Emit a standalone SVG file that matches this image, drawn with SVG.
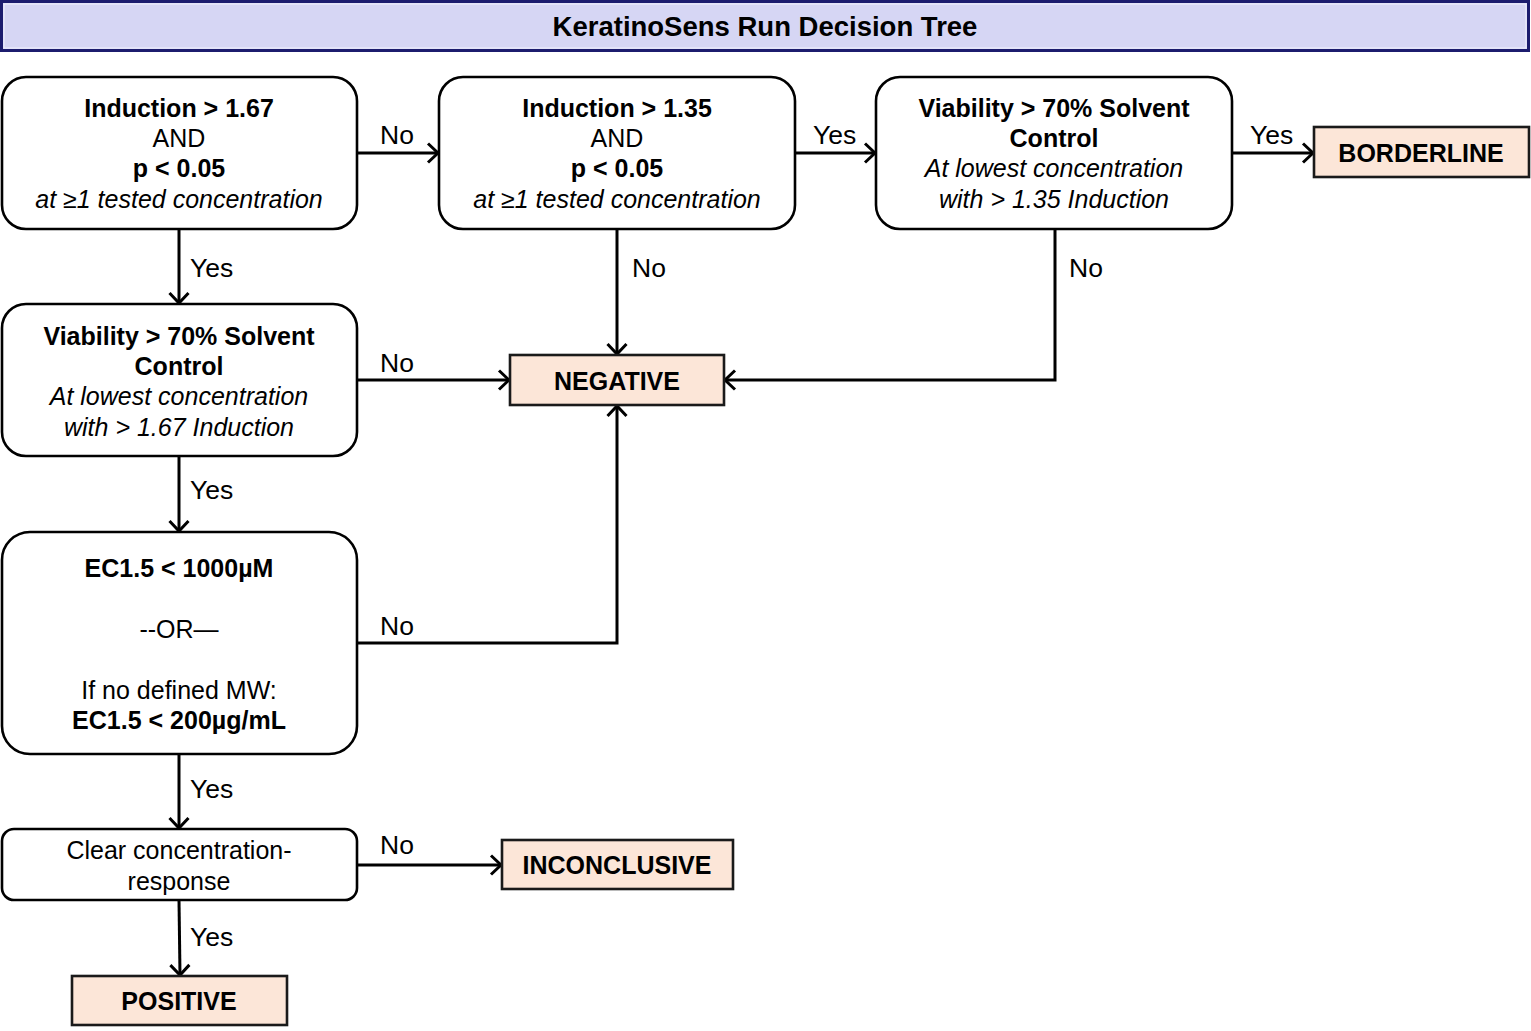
<svg xmlns="http://www.w3.org/2000/svg" width="1531" height="1031" viewBox="0 0 1531 1031">
<defs>
<marker id="arr" markerWidth="16" markerHeight="22" refX="12" refY="11" orient="auto" markerUnits="userSpaceOnUse">
<path d="M2,1.5 L12,11 L2,20.5" fill="none" stroke="#000" stroke-width="3"/>
</marker>
<style>
text{font-family:"Liberation Sans",Arial,sans-serif;font-size:25px;fill:#000;text-anchor:middle}
.b{font-weight:bold}
.i{font-style:italic}
.lbl{text-anchor:start;font-size:26.5px}
.dec{fill:#fff;stroke:#000;stroke-width:2.6}
.out{fill:#fce6d8;stroke:#1a1a1a;stroke-width:2.6}
.con{fill:none;stroke:#000;stroke-width:3;marker-end:url(#arr)}
</style>
</defs>
<rect width="1531" height="1031" fill="#fff"/>
<g id="title">
<rect x="1.5" y="1.5" width="1527" height="49" fill="#d6d6f4" stroke="#1c1c6e" stroke-width="3"/>
<rect x="4" y="4" width="1522" height="44" fill="none" stroke="#f0f0fc" stroke-width="1"/>
<text class="b" x="765" y="36" style="font-size:27.5px">KeratinoSens Run Decision Tree</text>
</g>
<g id="connectors">
<path class="con" d="M357,153 H438"/>
<path class="con" d="M795,153 H875"/>
<path class="con" d="M1232,153 H1313"/>
<path class="con" d="M179,229 V303"/>
<path class="con" d="M617,229 V354"/>
<path class="con" d="M1055,229 V380 H725"/>
<path class="con" d="M357,380 H509"/>
<path class="con" d="M179,456 V531"/>
<path class="con" d="M357,643 H617 V406"/>
<path class="con" d="M179,754 V828"/>
<path class="con" d="M357,865 H501"/>
<path class="con" d="M179,900 L180,975"/>
<text class="lbl" x="380" y="144">No</text>
<text class="lbl" x="813" y="144">Yes</text>
<text class="lbl" x="1250" y="144">Yes</text>
<text class="lbl" x="190" y="277">Yes</text>
<text class="lbl" x="632" y="277">No</text>
<text class="lbl" x="1069" y="277">No</text>
<text class="lbl" x="380" y="372">No</text>
<text class="lbl" x="190" y="499">Yes</text>
<text class="lbl" x="380" y="635">No</text>
<text class="lbl" x="190" y="798">Yes</text>
<text class="lbl" x="380" y="854">No</text>
<text class="lbl" x="190" y="946">Yes</text>
</g>
<g id="n1">
<rect class="dec" x="2" y="77" width="355" height="152" rx="24"/>
<text class="b" x="179" y="117">Induction &gt; 1.67</text>
<text x="179" y="147">AND</text>
<text class="b" x="179" y="177">p &lt; 0.05</text>
<text class="i" x="179" y="208">at ≥1 tested concentration</text>
</g>
<g id="n2">
<rect class="dec" x="439" y="77" width="356" height="152" rx="24"/>
<text class="b" x="617" y="117">Induction &gt; 1.35</text>
<text x="617" y="147">AND</text>
<text class="b" x="617" y="177">p &lt; 0.05</text>
<text class="i" x="617" y="208">at ≥1 tested concentration</text>
</g>
<g id="n3">
<rect class="dec" x="876" y="77" width="356" height="152" rx="24"/>
<text class="b" x="1054" y="117">Viability &gt; 70% Solvent</text>
<text class="b" x="1054" y="147">Control</text>
<text class="i" x="1054" y="177">At lowest concentration</text>
<text class="i" x="1054" y="208">with &gt; 1.35 Induction</text>
</g>
<g id="borderline">
<rect class="out" x="1314" y="127" width="215" height="50"/>
<text class="b" x="1421" y="162">BORDERLINE</text>
</g>
<g id="n4">
<rect class="dec" x="2" y="304" width="355" height="152" rx="24"/>
<text class="b" x="179" y="345">Viability &gt; 70% Solvent</text>
<text class="b" x="179" y="375">Control</text>
<text class="i" x="179" y="405">At lowest concentration</text>
<text class="i" x="179" y="436">with &gt; 1.67 Induction</text>
</g>
<g id="negative">
<rect class="out" x="510" y="355" width="214" height="50"/>
<text class="b" x="617" y="390">NEGATIVE</text>
</g>
<g id="n5">
<rect class="dec" x="2" y="532" width="355" height="222" rx="28"/>
<text class="b" x="179" y="577">EC1.5 &lt; 1000µM</text>
<text x="179" y="638">--OR—</text>
<text x="179" y="699">If no defined MW:</text>
<text class="b" x="179" y="729">EC1.5 &lt; 200µg/mL</text>
</g>
<g id="n6">
<rect class="dec" x="2" y="829" width="355" height="71" rx="12"/>
<text x="179" y="859">Clear concentration-</text>
<text x="179" y="890">response</text>
</g>
<g id="inconclusive">
<rect class="out" x="502" y="840" width="231" height="49"/>
<text class="b" x="617" y="874">INCONCLUSIVE</text>
</g>
<g id="positive">
<rect class="out" x="72" y="976" width="215" height="49"/>
<text class="b" x="179" y="1010">POSITIVE</text>
</g>
</svg>
